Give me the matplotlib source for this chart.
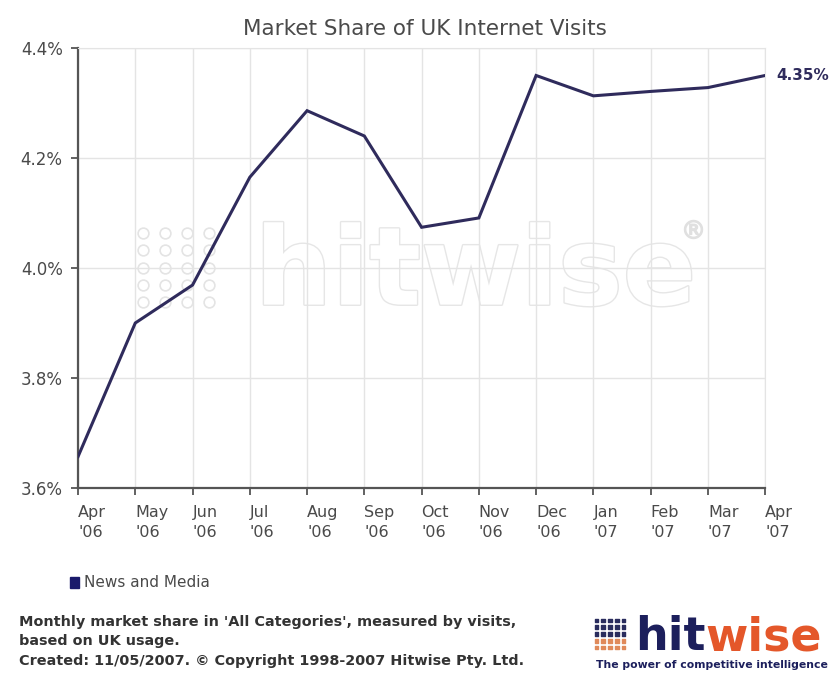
import matplotlib.pyplot as plt
import matplotlib.patheffects as pe
import numpy as np

# Monthly market share of UK internet visits, News and Media category
months = ["Apr\n'06", "May\n'06", "Jun\n'06", "Jul\n'06", "Aug\n'06", "Sep\n'06", "Oct\n'06",
          "Nov\n'06", "Dec\n'06", "Jan\n'07", "Feb\n'07", "Mar\n'07", "Apr\n'07"]
share = [3.657, 3.900, 3.969, 4.165, 4.286, 4.240, 4.074, 4.091, 4.350, 4.313, 4.321, 4.328, 4.35]
y_ticks = [3.6, 3.8, 4.0, 4.2, 4.4]
series_name = "News and Media"
last_label = "4.35%"

line_col = "#2f2b5c"
text_col = "#4a4a4a"

fig = plt.figure(figsize=(8.39, 6.73), dpi=100)
ax = fig.add_axes([0.093, 0.2749, 0.819, 0.6538])

x = np.arange(len(months))

# faint "hitwise" watermark behind the plot
fig.text(0.567, 0.592, "hitwise", fontsize=78, fontweight="bold", color="white",
         ha="center", va="center", zorder=0,
         path_effects=[pe.withStroke(linewidth=2.0, foreground="#e6e6e6")])
fig.add_artist(plt.Line2D([0.826], [0.66], marker=r"$\circledR$", markersize=13,
                          color="#e0e0e0", transform=fig.transFigure))
dx, dy = np.meshgrid(np.arange(4), np.arange(5))
wm = fig.add_axes([0.155, 0.535, 0.11, 0.135], zorder=0)
wm.scatter(dx.ravel(), dy.ravel(), s=60, facecolors="white", edgecolors="#e4e4e4", linewidths=1.2)
wm.set_xlim(-0.6, 3.6)
wm.set_ylim(-0.6, 4.6)
wm.axis("off")
ax.set_zorder(1)
ax.patch.set_alpha(0)

ax.plot(x, share, color=line_col, lw=2.2, solid_joinstyle="miter", zorder=3)
ax.text(x[-1] + 0.2, share[-1], last_label, fontsize=11, color=line_col,
        fontweight="bold", va="center", ha="left", clip_on=False)

ax.set_xlim(0, len(months) - 1)
ax.set_ylim(3.6, 4.4)
ax.set_yticks(y_ticks)
ax.set_yticklabels([f"{v:.1f}%" for v in y_ticks], fontsize=12, color=text_col)
ax.set_xticks(x)
ax.set_xticklabels(months, fontsize=11.5, color=text_col, ha="left", linespacing=1.45)
ax.tick_params(axis="x", length=5, width=1.3, color="#555555", pad=7)
ax.tick_params(axis="y", length=5, width=1.3, color="#555555", pad=6)

ax.grid(True, color="#e4e4e4", lw=1.0)
for side in ["top", "right"]:
    ax.spines[side].set_color("#e4e4e4")
for side in ["left", "bottom"]:
    ax.spines[side].set_color("#555555")
    ax.spines[side].set_linewidth(1.6)

fig.text(0.507, 0.957, "Market Share of UK Internet Visits", fontsize=15.5,
         color=text_col, ha="center", va="center")

# legend entry
fig.patches.append(plt.Rectangle((0.083, 0.126), 0.011, 0.016, color="#1a1a6b",
                                 transform=fig.transFigure, figure=fig))
fig.text(0.100, 0.134, series_name, fontsize=11, color=text_col, va="center")

# footnote
foot = ("Monthly market share in 'All Categories', measured by visits,\n"
        "based on UK usage.\n"
        "Created: 11/05/2007. © Copyright 1998-2007 Hitwise Pty. Ltd.")
fig.text(0.023, 0.0475, foot, fontsize=10.4, color="#333333", va="center",
         linespacing=1.5, fontweight="semibold")

# logo in the corner
lg = fig.add_axes([0.706, 0.032, 0.042, 0.052])
gx, gy = np.meshgrid(np.arange(5), np.arange(5))
dot_cols = np.where(gy.ravel() <= 1, "#e08a5a", "#2a2d5e")
lg.scatter(gx.ravel(), gy.ravel(), s=7, marker="s", color=dot_cols)
lg.set_xlim(-0.6, 4.6)
lg.set_ylim(-0.6, 4.6)
lg.axis("off")
hit = fig.text(0.757, 0.034, "hit", fontsize=33, fontweight="bold", color="#1c1f5c",
               va="baseline", ha="left")
lg.annotate("wise", xy=(1, 0), xycoords=hit, fontsize=33, fontweight="bold",
            color="#e4572a", va="bottom", ha="left", annotation_clip=False)
fig.text(0.849, 0.012, "The power of competitive intelligence", fontsize=7.8,
         color="#1c1f5c", va="center", ha="center", fontweight="bold")

fig.savefig("out.png", dpi=100, facecolor="white")
